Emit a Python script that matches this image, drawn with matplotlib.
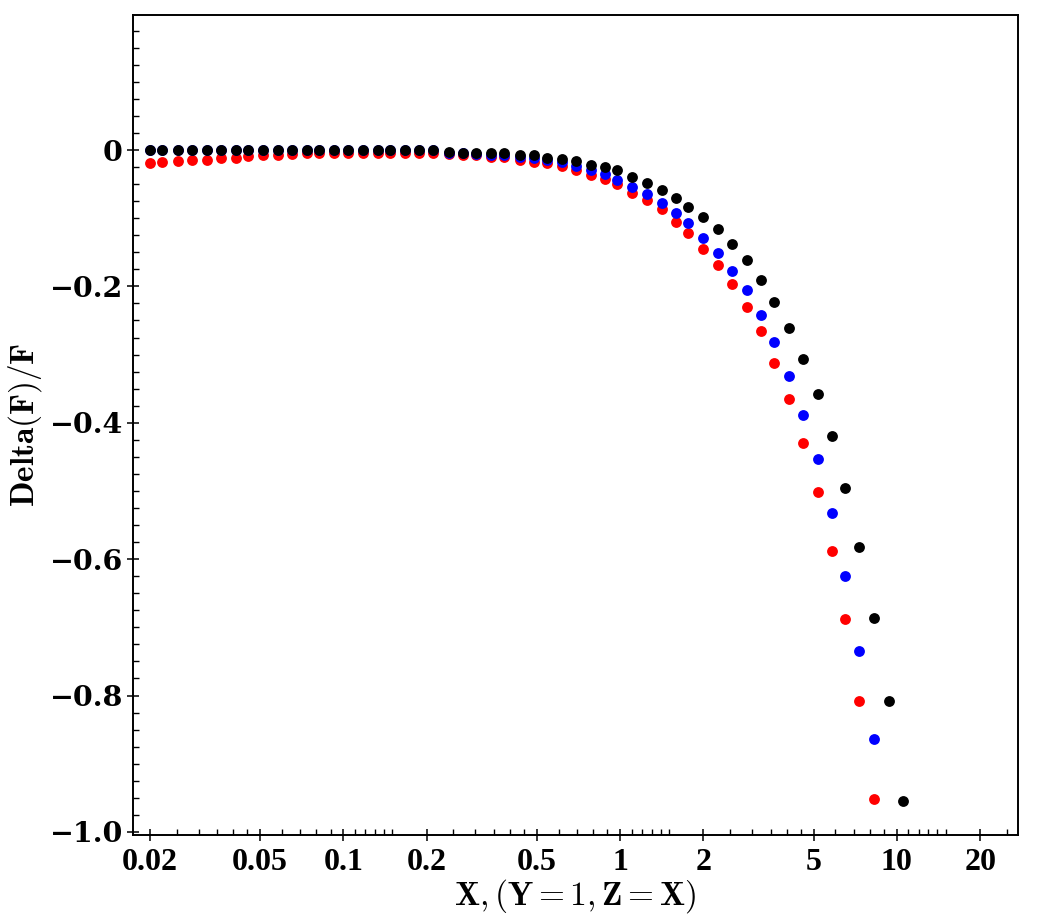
import numpy as np
import matplotlib
matplotlib.use("Agg")
import matplotlib.pyplot as plt

plt.rcParams['mathtext.fontset'] = 'cm'
plt.rcParams['font.family'] = 'serif'

# x grid shared by the three series
x = [0.0201, 0.0222, 0.0252, 0.0284, 0.0321, 0.0361, 0.0409, 0.0453, 0.0511, 0.0579,
     0.0654, 0.0740, 0.0816, 0.0925, 0.104, 0.118, 0.133, 0.147, 0.167, 0.188,
     0.211, 0.241, 0.271, 0.302, 0.341, 0.382, 0.435, 0.490, 0.544, 0.615,
     0.693, 0.783, 0.882, 0.977, 1.107, 1.251, 1.414, 1.592, 1.764, 1.993,
     2.258, 2.543, 2.868, 3.238, 3.599, 4.061, 4.570, 5.178, 5.847, 6.482,
     7.317, 8.252, 9.348, 10.56]

black = [0, 0, 0, 0, 0, 0, 0, 0, 0, 0,
         0, 0, 0, 0, 0, 0, 0, 0, 0, 0,
         0, -0.003, -0.004, -0.004, -0.005, -0.005, -0.007, -0.008, -0.011, -0.0135,
         -0.016, -0.0215, -0.025, -0.030, -0.039, -0.049, -0.058, -0.071, -0.0835, -0.098,
         -0.116, -0.138, -0.162, -0.190, -0.223, -0.261, -0.306, -0.358, -0.420, -0.496,
         -0.582, -0.686, -0.808, -0.955]

blue = [0, 0, 0, 0, 0, 0, 0, 0, 0, 0,
        0, 0, 0, 0, 0, 0, 0, 0, 0, 0,
        0, -0.004, -0.005, -0.006, -0.007, -0.0075, -0.010, -0.012, -0.015, -0.018,
        -0.0235, -0.0286, -0.0345, -0.044, -0.054, -0.065, -0.078, -0.092, -0.107, -0.129,
        -0.151, -0.177, -0.206, -0.242, -0.282, -0.331, -0.389, -0.453, -0.533, -0.624,
        -0.735, -0.863]

red = [-0.019, -0.017, -0.016, -0.015, -0.014, -0.012, -0.011, -0.009, -0.008, -0.007,
       -0.006, -0.005, -0.005, -0.005, -0.005, -0.005, -0.005, -0.005, -0.005, -0.005,
       -0.005, -0.006, -0.007, -0.008, -0.0098, -0.0107, -0.0147, -0.017, -0.0195, -0.023,
       -0.029, -0.036, -0.042, -0.050, -0.063, -0.073, -0.086, -0.105, -0.122, -0.145,
       -0.169, -0.196, -0.230, -0.266, -0.313, -0.365, -0.429, -0.502, -0.588, -0.688,
       -0.808, -0.952]

x_major = [0.02, 0.05, 0.1, 0.2, 0.5, 1, 2, 5, 10, 20]
x_labels = ['0.02', '0.05', '0.1', '0.2', '0.5', '1', '2', '5', '10', '20']
x_minor = [0.025, 0.03, 0.035, 0.04, 0.045, 0.06, 0.07, 0.08, 0.09,
           0.11, 0.12, 0.13, 0.14, 0.15, 0.25, 0.3, 0.35, 0.4, 0.45,
           0.6, 0.7, 0.8, 0.9, 1.1, 1.2, 1.3, 1.4, 1.5, 2.5, 3, 3.5, 4, 4.5,
           6, 7, 8, 9, 11, 12, 13, 14, 15, 25]
y_major = [0, -0.2, -0.4, -0.6, -0.8, -1.0]
y_labels = ['0', '\u22120.2', '\u22120.4', '\u22120.6', '\u22120.8', '\u22121.0']
y_minor = [v / 1000 for v in range(-975, 200, 25) if v % 200 != 0]

fig = plt.figure(figsize=(10.55, 9.19), dpi=100)
ax = fig.add_axes([0.1261, 0.0914, 0.8389, 0.8923])

ax.plot(x[:len(red)], red, 'o', color='#ff0000', ms=7.8, mew=0, zorder=3)
ax.plot(x[:len(blue)], blue, 'o', color='#0000ff', ms=7.8, mew=0, zorder=4)
ax.plot(x[:len(black)], black, 'o', color='black', ms=7.8, mew=0, zorder=5)

ax.set_xscale('log')
ax.set_xlim(0.0174, 27.4)
ax.set_ylim(-1.0045, 0.198)

ax.set_xticks(x_major)
ax.set_xticklabels(x_labels, family='Liberation Serif', weight='bold', size=23)
ax.set_xticks(x_minor, minor=True)
ax.xaxis.set_minor_formatter(plt.NullFormatter())
ax.set_yticks(y_major)
ax.set_yticklabels(y_labels, family='DejaVu Serif', weight='bold', size=20.5)
ax.set_yticks(y_minor, minor=True)

ax.tick_params(which='major', direction='inout', length=8.5, width=1.1,
               top=False, right=False)
ax.tick_params(axis='x', which='major', pad=5)
ax.tick_params(axis='y', which='major', pad=3)
ax.tick_params(which='minor', direction='in', length=4.3, width=1.0,
               top=False, right=False)

for s in ax.spines.values():
    s.set_linewidth(1.4)

ax.set_xlabel(r'$\mathbf{X, (Y = 1, Z = X)}$', fontsize=24, labelpad=0)
ax.set_ylabel(r'$\mathbf{Delta(F)/F}$', fontsize=24, labelpad=4)

fig.savefig('out.png', dpi=100)
